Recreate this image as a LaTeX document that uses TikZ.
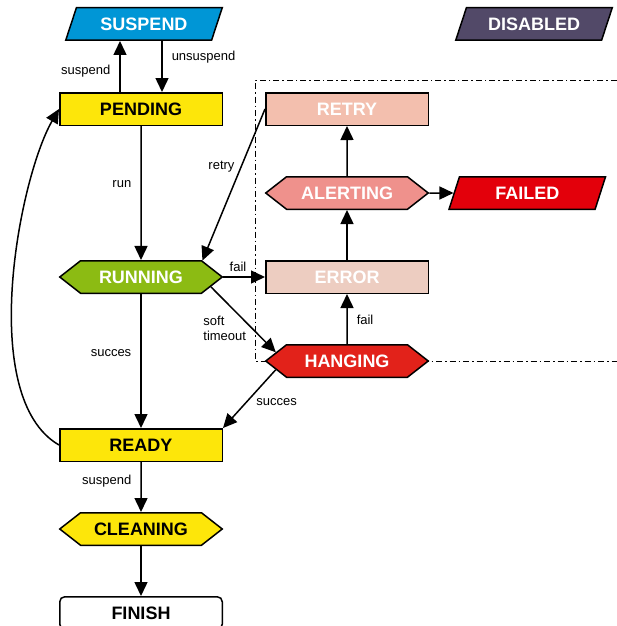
\documentclass[tikz,border=0pt]{standalone}
\usepackage{fontspec}
\setmainfont{Liberation Sans}
\usetikzlibrary{shapes.geometric, shapes.symbols, arrows.meta, positioning, calc, backgrounds}

\definecolor{suspendblue}{RGB}{0,150,214}
\definecolor{disabledgray}{RGB}{82,73,104}
\definecolor{stateyellow}{RGB}{253,230,10}
\definecolor{rungreen}{RGB}{140,187,19}
\definecolor{retrypink}{RGB}{243,191,174}
\definecolor{alertpink}{RGB}{239,145,140}
\definecolor{failred}{RGB}{227,0,11}
\definecolor{errorpink}{RGB}{237,205,193}
\definecolor{hangred}{RGB}{226,34,26}

\tikzset{
  st/.style={draw, line width=1.5pt, minimum width=162.5pt, minimum height=32.5pt,
             inner sep=2pt, text=white, font=\fontsize{18}{20}\selectfont\bfseries},
  box/.style={st, rectangle},
  hexa/.style={st, signal, signal to=west and east, signal pointer angle=76},
  para/.style={st, trapezium, trapezium left angle=57.5, trapezium right angle=122.5,
               trapezium stretches body, minimum width=156.5pt},
  arr/.style={-{Triangle[length=14pt,width=13pt]}, line width=1.5pt},
  lbl/.style={font=\fontsize{13}{15}\selectfont, inner xsep=9pt, inner ysep=2pt, align=left},
  frame/.style={line width=1pt, dash pattern=on 6pt off 3pt on 1.5pt off 3pt},
}

\begin{document}
\begin{tikzpicture}[x=1pt, y=1pt, node distance=50pt and 42pt]
  \useasboundingbox (0,0) rectangle (616,-626);

  % main column
  \node[box, fill=stateyellow, text=black] (pending) at (141,-109) {PENDING};
  \node[para, fill=suspendblue, above=51pt of pending, xshift=3pt] (suspend) {SUSPEND};
  \node[hexa, fill=rungreen, below=134pt of pending] (running) {RUNNING};
  \node[box, fill=stateyellow, text=black, below=134pt of running] (ready) {READY};
  \node[hexa, fill=stateyellow, text=black, below=of ready] (cleaning) {CLEANING};
  \node[box, rounded corners=5pt, fill=white, text=black, below=of cleaning] (finish) {FINISH};

  % error handling column
  \node[box, fill=retrypink, right=of pending] (retry) {RETRY};
  \node[hexa, fill=alertpink, below=of retry] (alerting) {ALERTING};
  \node[box, fill=errorpink, below=of alerting] (error) {ERROR};
  \node[hexa, fill=hangred, below=of error] (hanging) {HANGING};
  \node[para, fill=failred, right=24pt of alerting] (failed) {FAILED};
  \node[para, fill=disabledgray] (disabled) at (534,-24) {DISABLED};

  \begin{scope}[on background layer]
    \draw[frame] (630,-80) -- (255,-80) -- (255,-361) -- (630,-361);
  \end{scope}

  \draw[arr] ([xshift=-21pt]pending.north) -- ([xshift=-21pt]pending.north |- suspend.south)
    node[lbl, left, pos=0.4] {suspend};
  \draw[arr] ([xshift=21pt]pending.north |- suspend.south) -- ([xshift=21pt]pending.north)
    node[lbl, right, pos=0.31] {unsuspend};
  \draw[arr] (pending) -- (running) node[lbl, left, pos=0.43] {run};
  \draw[arr] (running) -- (ready) node[lbl, left, pos=0.44] {succes};
  \draw[arr] (ready) -- (cleaning) node[lbl, left, pos=0.38] {suspend};
  \draw[arr] (cleaning) -- (finish);

  \draw[arr] (running.east) -- (error.west) node[lbl, above=3pt, pos=0.35, inner xsep=2pt] {fail};
  \draw[arr] (running.-8) -- (hanging.173) node[lbl, left, pos=0.63, inner xsep=5pt] {soft\\timeout};
  \draw[arr] (hanging) -- (error) node[lbl, right, pos=0.49] {fail};
  \draw[arr] (hanging.-173) -- (ready.north east) node[lbl, right, pos=0.55] {succes};
  \draw[arr] (error) -- (alerting);
  \draw[arr] (alerting) -- (retry);
  \draw[arr] (alerting.east) -- (failed);
  \draw[arr] (retry.west) -- (running.15) node[lbl, left, pos=0.38, inner xsep=6pt] {retry};

  \draw[arr] (ready.west) to[out=150, in=240, out distance=95pt, in distance=80pt] (pending.west);
\end{tikzpicture}
\end{document}
